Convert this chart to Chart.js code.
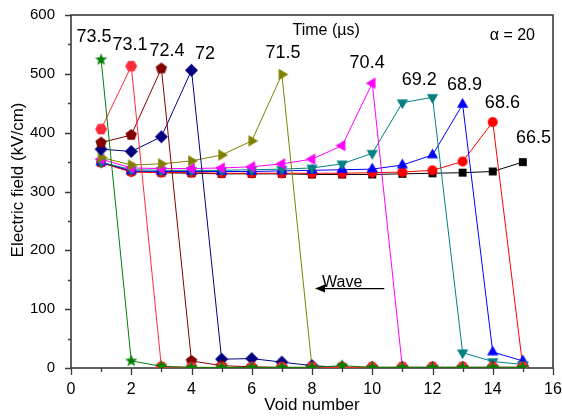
<!DOCTYPE html>
<html>
<head>
<meta charset="utf-8">
<script src="https://cdn.jsdelivr.net/npm/chart.js@4.4.1/dist/chart.umd.min.js"></script>
<style>
  html, body { margin: 0; padding: 0; background: #fff; }
</style>
</head>
<body>
<canvas id="grafico" width="562" height="416"></canvas>
<script>
// void positions along the line
const voids = [1, 2, 3, 4, 5, 6, 7, 8, 9, 10, 11, 12, 13, 14, 15];

// arrival time of each curve (µs)
const times = ["73.5", "73.1", "72.4", "72", "71.5", "70.4", "69.2", "68.9", "68.6", "66.5"];

// electric field (kV/cm) at each void, one array per time
const e735 = [524, 12, 3, 1, 1, 1, 1, 1, 4, 1, 1, 1, 1, 1, 1];
const e731 = [406, 513, 2, 1, 1, 1, 1, 1, 1, 1, 1, 1, 1, 1, 1];
const e724 = [383, 396, 509, 12, 4, 2, 1, 1, 1, 1, 1, 1, 1, 1, 1];
const e720 = [372, 368, 393, 506, 15, 16, 10, 4, 1, 1, 1, 1, 1, 1, 1];
const e715 = [358, 345, 347, 352, 362, 386, 499, 1, 1, 1, 1, 1, 1, 1, 1];
const e704 = [355, 340, 339, 339, 340, 342, 347, 355, 378, 484, 1, 1, 1, 1, 1];
const e692 = [350, 337, 336, 336, 336, 337, 338, 340, 347, 365, 451, 460, 26, 11, 6];
const e689 = [350, 335, 334, 334, 334, 334, 335, 336, 337, 338, 345, 362, 448, 27, 12];
const e686 = [349, 333, 332, 332, 331, 331, 331, 331, 331, 332, 333, 336, 351, 418, 1];
const e665 = [349, 334, 332, 331, 330, 330, 330, 329, 329, 329, 330, 331, 332, 334, 350];

const yTicks = [0, 100, 200, 300, 400, 500, 600];
const xTicks = [0, 2, 4, 6, 8, 10, 12, 14, 16];

const FONT = 'Arial, "Liberation Sans", sans-serif';

// small canvas markers: polygons, star, circle
function marker(kind, r, color) {
  const size = Math.ceil(r * 2 + 2);
  const c = document.createElement("canvas");
  c.width = size; c.height = size;
  const g = c.getContext("2d");
  const cx = size / 2, cy = size / 2;
  g.fillStyle = color;
  g.beginPath();
  if (kind === "circle") {
    g.arc(cx, cy, r, 0, Math.PI * 2);
  } else if (kind === "star") {
    for (let i = 0; i < 10; i++) {
      const rr = i % 2 === 0 ? r : r * 0.42;
      const a = -Math.PI / 2 + i * Math.PI / 5;
      g.lineTo(cx + rr * Math.cos(a), cy + rr * Math.sin(a));
    }
  } else {
    const [n, start] = kind;
    for (let i = 0; i < n; i++) {
      const a = start + i * 2 * Math.PI / n;
      g.lineTo(cx + r * Math.cos(a), cy + r * Math.sin(a));
    }
  }
  g.closePath();
  g.fill();
  return c;
}

const UP = -Math.PI / 2;
const series = [
  { data: e735, color: "#008000", shape: marker("star", 6.5, "#008000") },
  { data: e731, color: "#ff2a3a", shape: marker([6, 0], 6, "#ff2a3a") },
  { data: e724, color: "#800000", shape: marker([5, UP], 6, "#800000") },
  { data: e720, color: "#000080", shape: marker([4, UP], 6.5, "#000080") },
  { data: e715, color: "#808000", shape: marker([3, 0], 6.5, "#808000") },
  { data: e704, color: "#ff00ff", shape: marker([3, Math.PI], 6.5, "#ff00ff") },
  { data: e692, color: "#008080", shape: marker([3, Math.PI / 2], 6.5, "#008080") },
  { data: e689, color: "#0000ff", shape: marker([3, UP], 6.5, "#0000ff") },
  { data: e686, color: "#ff0000", shape: marker("circle", 5, "#ff0000") },
  { data: e665, color: "#000000", shape: marker([4, Math.PI / 4], 5.6, "#000000") }
];

// where each time label sits (data units)
const labelAt = [
  [0.76, 563], [1.96, 549], [3.19, 539], [4.45, 534], [7.04, 536],
  [9.83, 519], [11.56, 490], [13.06, 481], [14.32, 451], [15.35, 391]
];

const decor = {
  id: "decor",
  beforeDatasetsDraw(chart) {
    const { ctx, chartArea: a, scales: { x, y } } = chart;
    ctx.save();
    ctx.strokeStyle = "#3a3a3a";
    ctx.lineWidth = 1.6;
    ctx.strokeRect(a.left, a.top, a.right - a.left, a.bottom - a.top);
    // tick marks: long on labelled values, short in between
    ctx.lineWidth = 1.3;
    ctx.beginPath();
    for (let v = 0; v <= 16; v++) {
      const px = Math.round(x.getPixelForValue(v)) + 0.5;
      ctx.moveTo(px, a.bottom);
      ctx.lineTo(px, a.bottom + (v % 2 === 0 ? 7 : 4));
    }
    for (let v = 0; v <= 600; v += 50) {
      const py = Math.round(y.getPixelForValue(v)) + 0.5;
      ctx.moveTo(a.left, py);
      ctx.lineTo(a.left - (v % 100 === 0 ? 6 : 3), py);
    }
    ctx.stroke();
    ctx.restore();
  },
  afterDraw(chart) {
    const { ctx, chartArea: a, scales: { x, y } } = chart;
    ctx.save();
    ctx.fillStyle = "#000";
    ctx.textAlign = "center";
    ctx.textBaseline = "middle";
    ctx.font = "18px " + FONT;
    times.forEach((t, i) => {
      ctx.fillText(t, x.getPixelForValue(labelAt[i][0]), y.getPixelForValue(labelAt[i][1]));
    });
    ctx.font = "16px " + FONT;
    ctx.fillText("Time (\u00b5s)", x.getPixelForValue(8.47), y.getPixelForValue(573));
    ctx.fillText("\u03b1 = 20", x.getPixelForValue(14.65), y.getPixelForValue(565));
    ctx.fillText("Wave", x.getPixelForValue(9.0), y.getPixelForValue(145));

    // wave direction arrow
    const ay = y.getPixelForValue(135);
    const x0 = x.getPixelForValue(10.4), x1 = x.getPixelForValue(8.1);
    ctx.strokeStyle = "#000";
    ctx.lineWidth = 1.4;
    ctx.beginPath();
    ctx.moveTo(x0, ay);
    ctx.lineTo(x1 + 8, ay);
    ctx.stroke();
    ctx.beginPath();
    ctx.moveTo(x1, ay);
    ctx.lineTo(x1 + 10, ay - 4);
    ctx.lineTo(x1 + 10, ay + 4);
    ctx.closePath();
    ctx.fill();

    // axis titles
    ctx.font = "17px " + FONT;
    ctx.fillText("Void number", (a.left + a.right) / 2, 405);
    ctx.translate(18, 180);
    ctx.rotate(-Math.PI / 2);
    ctx.fillText("Electric field (kV/cm)", 0, 0);
    ctx.restore();
  }
};

new Chart(document.getElementById("grafico"), {
  type: "line",
  data: {
    datasets: series.map((s, i) => ({
      label: times[i],
      data: voids.map((v, k) => ({ x: v, y: s.data[k] })),
      borderColor: s.color,
      backgroundColor: s.color,
      borderWidth: 1,
      pointStyle: s.shape,
      pointRadius: 6,
      tension: 0
    }))
  },
  options: {
    responsive: false,
    animation: false,
    devicePixelRatio: 1,
    layout: { padding: { top: 15, right: 9, left: 0, bottom: 0 } },
    plugins: { legend: { display: false }, tooltip: { enabled: false } },
    scales: {
      x: {
        type: "linear",
        min: 0, max: 16,
        afterFit: s => { s.height = 48; s.paddingLeft = 0; s.paddingRight = 0; },
        afterBuildTicks: s => { s.ticks = xTicks.map(v => ({ value: v })); },
        grid: { display: false, drawTicks: false },
        border: { display: false },
        ticks: { padding: 12, color: "#000", maxRotation: 0, font: { family: FONT, size: 16 } }
      },
      y: {
        min: 0, max: 600,
        afterFit: s => { s.width = 71; s.paddingTop = 0; s.paddingBottom = 0; },
        afterBuildTicks: s => { s.ticks = yTicks.map(v => ({ value: v })); },
        grid: { display: false, drawTicks: false },
        border: { display: false },
        ticks: { padding: 16, color: "#000", font: { family: FONT, size: 15 } }
      }
    }
  },
  plugins: [decor]
});
</script>
</body>
</html>
